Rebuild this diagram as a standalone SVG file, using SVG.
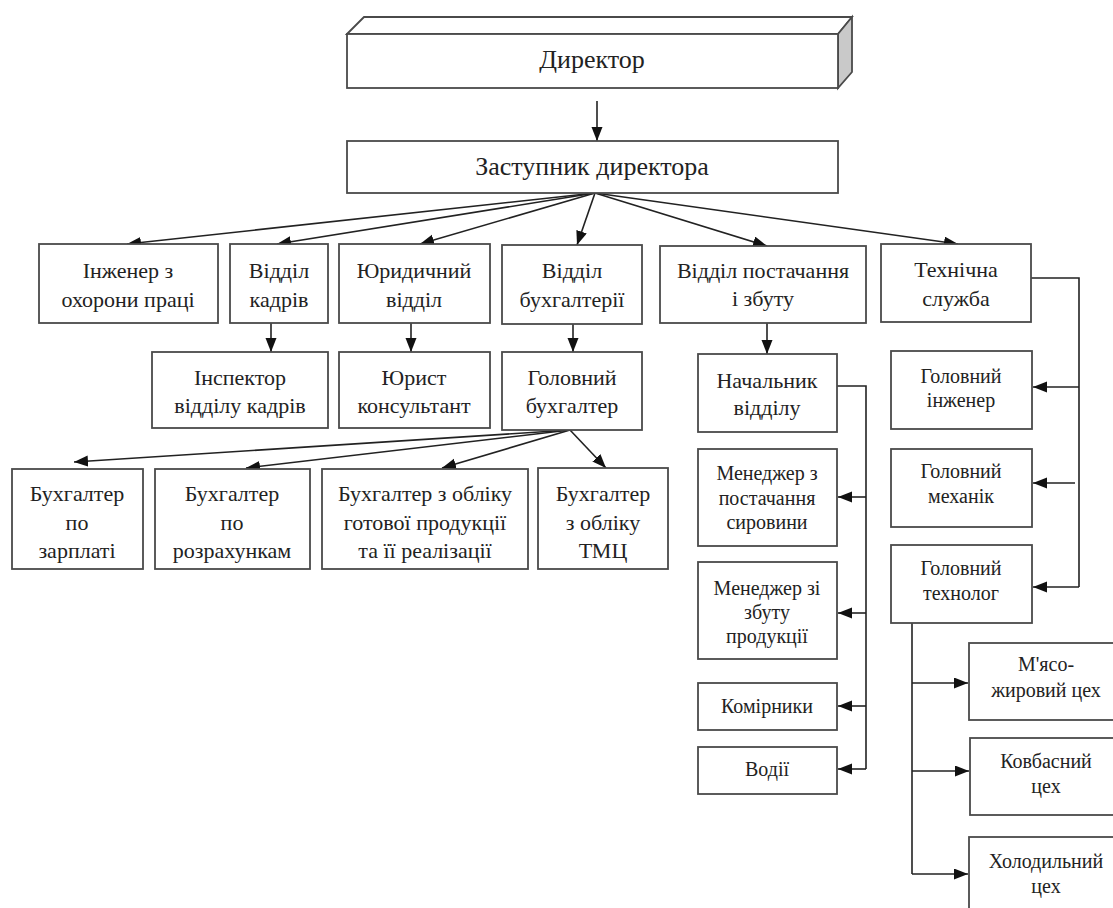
<svg xmlns="http://www.w3.org/2000/svg" width="1113" height="908" viewBox="0 0 1113 908">
<defs>
<marker id="ah" markerUnits="userSpaceOnUse" markerWidth="16" markerHeight="12" refX="14" refY="5.5" orient="auto">
<path d="M0,0 L14,5.5 L0,11 z" fill="#111"/>
</marker>
<style>
.box{fill:#fff;stroke:#4a4a4a;stroke-width:1.8}
.side{fill:#c9c9c9;stroke:#4a4a4a;stroke-width:1.8}
text{font-family:"Liberation Serif",Tinos,"Times New Roman","Noto Serif","DejaVu Serif",FreeSerif,serif}
.t{fill:#222;text-anchor:middle}
.big{font-size:26px}
.m{font-size:22px}
.s{font-size:20px}
.c{fill:none;stroke:#222;stroke-width:1.6}
.a{fill:none;stroke:#222;stroke-width:1.6;marker-end:url(#ah)}
</style>
</defs>
<rect width="1113" height="908" fill="#fff"/>

<g id="connectors">
<line class="a" x1="597" y1="101" x2="597" y2="141"/>
<line class="a" x1="595" y1="193" x2="127" y2="244"/>
<line class="a" x1="595" y1="193" x2="277" y2="244"/>
<line class="a" x1="595" y1="193" x2="420" y2="244"/>
<line class="a" x1="595" y1="193" x2="577" y2="245"/>
<line class="a" x1="595" y1="193" x2="767" y2="246"/>
<line class="a" x1="595" y1="193" x2="958" y2="244"/>
<line class="a" x1="271" y1="323" x2="271" y2="352"/>
<line class="a" x1="411" y1="323" x2="411" y2="352"/>
<line class="a" x1="573" y1="324" x2="573" y2="352"/>
<line class="a" x1="570" y1="430" x2="74" y2="462"/>
<line class="a" x1="570" y1="430" x2="246" y2="468"/>
<line class="a" x1="570" y1="430" x2="442" y2="468"/>
<line class="a" x1="570" y1="430" x2="606" y2="468"/>
<line class="a" x1="767" y1="323" x2="767" y2="354"/>
<path class="c" d="M837,386 H866 V769"/>
<line class="a" x1="866" y1="497" x2="838" y2="497"/>
<line class="a" x1="866" y1="613" x2="838" y2="613"/>
<line class="a" x1="866" y1="706" x2="838" y2="706"/>
<line class="a" x1="866" y1="769" x2="838" y2="769"/>
<path class="c" d="M1031,278 H1079 V587"/>
<line class="a" x1="1079" y1="387" x2="1033" y2="387"/>
<line class="a" x1="1075" y1="483" x2="1033" y2="483"/>
<line class="a" x1="1079" y1="587" x2="1033" y2="587"/>
<path class="c" d="M912,623 V874"/>
<line class="a" x1="912" y1="683" x2="968" y2="683"/>
<line class="a" x1="912" y1="771" x2="969" y2="771"/>
<line class="a" x1="912" y1="874" x2="968" y2="874"/>
</g>

<g id="director">
<path class="box" d="M347,34 L364,17 L852,17 L838,34 Z"/>
<path class="side" d="M838,34 L852,17 L852,72 L838,88 Z"/>
<rect class="box" x="347" y="34" width="491" height="54"/>
<text class="t big" x="592" y="68">Директор</text>
</g>

<g id="deputy">
<rect class="box" x="347" y="141" width="491" height="52"/>
<text class="t big" x="592" y="175">Заступник директора</text>
</g>

<g id="safety-engineer">
<rect class="box" x="39" y="244" width="179" height="79"/>
<text class="t m" x="128" y="278">Інженер з</text>
<text class="t m" x="128" y="307">охорони праці</text>
</g>

<g id="hr-dept">
<rect class="box" x="230" y="244" width="98" height="79"/>
<text class="t m" x="279" y="278">Відділ</text>
<text class="t m" x="279" y="307">кадрів</text>
</g>

<g id="legal-dept">
<rect class="box" x="339" y="244" width="151" height="79"/>
<text class="t m" x="414" y="278">Юридичний</text>
<text class="t m" x="414" y="307">відділ</text>
</g>

<g id="accounting-dept">
<rect class="box" x="502" y="245" width="140" height="79"/>
<text class="t m" x="572" y="278">Відділ</text>
<text class="t m" x="572" y="307">бухгалтерії</text>
</g>

<g id="supply-dept">
<rect class="box" x="660" y="246" width="206" height="77"/>
<text class="t m" x="763" y="278">Відділ постачання</text>
<text class="t m" x="763" y="306">і збуту</text>
</g>

<g id="tech-service">
<rect class="box" x="881" y="244" width="150" height="78"/>
<text class="t m" x="956" y="277">Технічна</text>
<text class="t m" x="956" y="306">служба</text>
</g>

<g id="hr-inspector">
<rect class="box" x="152" y="352" width="176" height="76"/>
<text class="t m" x="240" y="385">Інспектор</text>
<text class="t m" x="240" y="413">відділу кадрів</text>
</g>

<g id="lawyer">
<rect class="box" x="339" y="352" width="151" height="76"/>
<text class="t m" x="414" y="385">Юрист</text>
<text class="t m" x="414" y="413">консультант</text>
</g>

<g id="chief-accountant">
<rect class="box" x="502" y="352" width="140" height="78"/>
<text class="t m" x="572" y="385">Головний</text>
<text class="t m" x="572" y="413">бухгалтер</text>
</g>

<g id="acc-salary">
<rect class="box" x="12" y="469" width="131" height="100"/>
<text class="t m" x="77" y="501">Бухгалтер</text>
<text class="t m" x="77" y="530">по</text>
<text class="t m" x="77" y="558">зарплаті</text>
</g>

<g id="acc-settlements">
<rect class="box" x="155" y="469" width="155" height="100"/>
<text class="t m" x="232" y="501">Бухгалтер</text>
<text class="t m" x="232" y="530">по</text>
<text class="t m" x="232" y="558">розрахункам</text>
</g>

<g id="acc-products">
<rect class="box" x="322" y="469" width="206" height="100"/>
<text class="t m" x="425" y="501">Бухгалтер з обліку</text>
<text class="t m" x="425" y="530">готової продукції</text>
<text class="t m" x="425" y="558">та її реалізації</text>
</g>

<g id="acc-tmc">
<rect class="box" x="538" y="468" width="130" height="101"/>
<text class="t m" x="603" y="501">Бухгалтер</text>
<text class="t m" x="603" y="530">з обліку</text>
<text class="t m" x="603" y="558">ТМЦ</text>
</g>

<g id="dept-head">
<rect class="box" x="698" y="354" width="139" height="78"/>
<text class="t m" x="767" y="388">Начальник</text>
<text class="t m" x="767" y="415">відділу</text>
</g>

<g id="supply-manager">
<rect class="box" x="698" y="449" width="139" height="97"/>
<text class="t s" x="767" y="480">Менеджер з</text>
<text class="t s" x="767" y="505">постачання</text>
<text class="t s" x="767" y="529">сировини</text>
</g>

<g id="sales-manager">
<rect class="box" x="698" y="562" width="139" height="97"/>
<text class="t s" x="767" y="595">Менеджер зі</text>
<text class="t s" x="767" y="619">збуту</text>
<text class="t s" x="767" y="643">продукції</text>
</g>

<g id="storekeepers">
<rect class="box" x="698" y="683" width="139" height="47"/>
<text class="t s" x="767" y="713">Комірники</text>
</g>

<g id="drivers">
<rect class="box" x="698" y="747" width="139" height="47"/>
<text class="t s" x="767" y="776">Водії</text>
</g>

<g id="chief-engineer">
<rect class="box" x="891" y="351" width="141" height="78"/>
<text class="t s" x="961" y="383">Головний</text>
<text class="t s" x="961" y="407">інженер</text>
</g>

<g id="chief-mechanic">
<rect class="box" x="891" y="449" width="141" height="78"/>
<text class="t s" x="961" y="478">Головний</text>
<text class="t s" x="961" y="503">механік</text>
</g>

<g id="chief-technologist">
<rect class="box" x="891" y="545" width="141" height="78"/>
<text class="t s" x="961" y="575">Головний</text>
<text class="t s" x="961" y="600">технолог</text>
</g>

<g id="meat-fat-shop">
<rect class="box" x="969" y="643" width="160" height="77"/>
<text class="t s" x="1046" y="671">М'ясо-</text>
<text class="t s" x="1046" y="697">жировий цех</text>
</g>

<g id="sausage-shop">
<rect class="box" x="970" y="738" width="160" height="77"/>
<text class="t s" x="1046" y="768">Ковбасний</text>
<text class="t s" x="1046" y="793">цех</text>
</g>

<g id="cold-shop">
<rect class="box" x="969" y="837" width="160" height="90"/>
<text class="t s" x="1046" y="868">Холодильний</text>
<text class="t s" x="1046" y="893">цех</text>
</g>
</svg>
